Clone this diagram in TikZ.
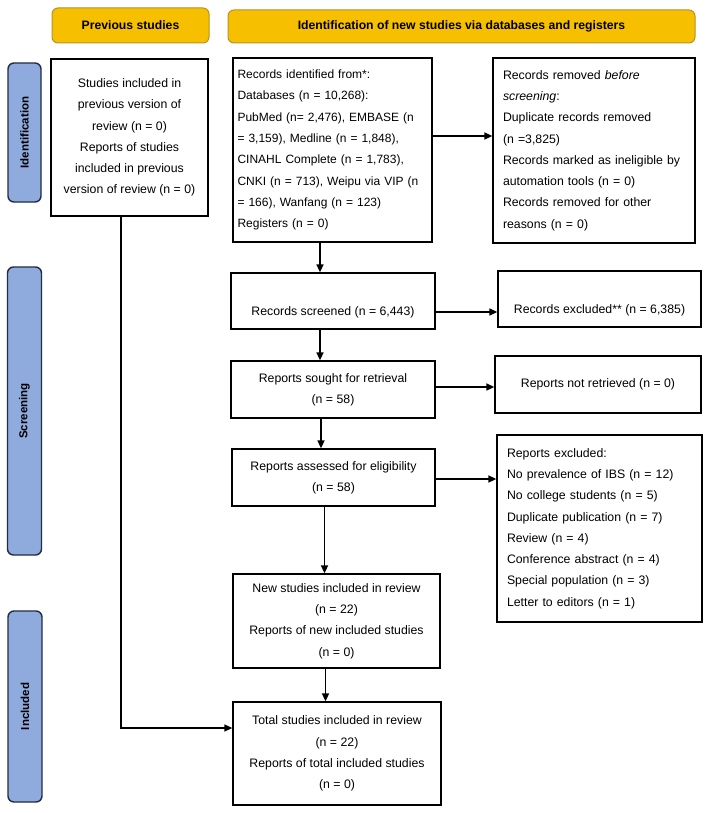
\documentclass[tikz,border=0pt]{standalone}
\usepackage{fontspec}
\setmainfont{Liberation Sans}
\usetikzlibrary{arrows.meta}
\definecolor{hdrfill}{RGB}{246,192,0}
\definecolor{hdrdraw}{RGB}{185,145,35}
\definecolor{sidefill}{RGB}{143,170,220}
\definecolor{sidedraw}{RGB}{35,45,65}
\begin{document}
\begin{tikzpicture}[x=1pt,y=-1pt,
  box/.style={draw=black, line width=1.3pt, fill=white, inner sep=0pt, align=center,
    font=\fontsize{12.3}{21.3}\selectfont},
  lbox/.style={box, align=left, inner xsep=#1},
  txt/.style={inner sep=0pt, font=\fontsize{12.3}{21.3}\selectfont},
  hdr/.style={draw=hdrdraw, fill=hdrfill, line width=1pt, rounded corners=6pt, inner sep=0pt,
    font=\bfseries\fontsize{12.2}{14}\selectfont},
  side/.style={draw=sidedraw, fill=sidefill, line width=1.4pt, rounded corners=6pt, inner sep=0pt,
    rotate=90, font=\bfseries\fontsize{11.5}{14}\selectfont},
  arr/.style={line width=1.6pt, -{Triangle[length=8pt,width=7pt]}},
  conn/.style={line width=1.3pt}]
\useasboundingbox[fill=white] (0,0) rectangle (708,813);

% headers
\node[hdr, minimum width=157pt, minimum height=35pt] (hprev) at (130.5,25.5) {Previous studies};
\node[hdr, minimum width=467pt, minimum height=33pt] (hident) at (461.5,26.5) {Identification of new studies via databases and registers};

% side labels
\node[side, minimum width=139pt, minimum height=33pt] (sident) at (24.5,132.5) {Identification};
\node[side, minimum width=288pt, minimum height=34pt] (sscreen) at (24.5,411) {Screening};
\node[side, minimum width=191pt, minimum height=34pt] (sincl) at (25,706.5) {Included};

% boxes
\node[box, minimum width=157pt, minimum height=157pt] (prev) at (129.5,137.5)
  {Studies included in\\previous version of\\review (n = 0)\\Reports of studies\\included in previous\\version of review (n = 0)};
\node[lbox=4.5pt, text width=190pt, minimum width=199pt, minimum height=184pt,
  font=\fontsize{12}{21.3}\selectfont] (ident) at (332.5,150)
  {Records identified from*:\\Databases (n = 10,268):\\PubMed (n= 2,476), EMBASE (n\\= 3,159), Medline (n = 1,848),\\CINAHL Complete (n = 1,783),\\CNKI (n = 713), Weipu via VIP (n\\= 166), Wanfang (n = 123)\\Registers (n = 0)};
\node[lbox=10pt, text width=182pt, minimum width=202pt, minimum height=185pt] (removed) at (594,150.5)
  {Records removed \textit{before}\\\textit{screening}:\\Duplicate records removed\\(n =3,825)\\Records marked as ineligible by\\automation tools (n = 0)\\Records removed for other\\reasons (n = 0)};
\node[box, minimum width=204pt, minimum height=56pt] (screened) at (333,301) {};
\node[txt] (screenedtxt) at ([yshift=-11pt]screened.center) {Records screened (n = 6,443)};
\node[box, minimum width=203pt, minimum height=56pt] (excluded) at (599.5,299) {};
\node[txt] (excludedtxt) at ([yshift=-11pt]excluded.center) {Records excluded** (n = 6,385)};
\node[box, minimum width=204pt, minimum height=57pt] (sought) at (333,389.5) {Reports sought for retrieval\\(n = 58)};
\node[box, minimum width=206pt, minimum height=57pt] (notret) at (598,384.5) {Reports not retrieved (n = 0)};
\node[box, minimum width=203pt, minimum height=57pt] (assessed) at (333.5,477.5) {Reports assessed for eligibility\\(n = 58)};
\node[lbox=10pt, text width=185pt, minimum width=205pt, minimum height=187pt] (repexcl) at (599.5,528.5)
  {Reports excluded:\\No prevalence of IBS (n = 12)\\No college students (n = 5)\\Duplicate publication (n = 7)\\Review (n = 4)\\Conference abstract (n = 4)\\Special population (n = 3)\\Letter to editors (n = 1)};
\node[box, minimum width=207pt, minimum height=94pt] (newst) at (336.5,621)
  {New studies included in review\\(n = 22)\\Reports of new included studies\\(n = 0)};
\node[box, minimum width=208pt, minimum height=103pt] (total) at (337,753.5)
  {Total studies included in review\\(n = 22)\\Reports of total included studies\\(n = 0)};

% helper coordinates
\coordinate (ax1) at (320,0);
\coordinate (ax2) at (320,0);
\coordinate (ax3) at (321,0);
\coordinate (ax4) at (324.5,0);
\coordinate (ax5) at (325.5,0);
\coordinate (lx) at (121,0);
\coordinate (ly) at (0,728);

% connectors
\draw[arr] ([yshift=14pt]ident.east) -- ([yshift=14pt]ident.east -| removed.west);
\draw[arr] (ident.south -| ax1) -- (screened.north -| ax1);
\draw[arr] ([yshift=-11pt]screened.east) -- ([yshift=-11pt]screened.east -| excluded.west);
\draw[arr] (screened.south -| ax2) -- (sought.north -| ax2);
\draw[arr] ([yshift=2.5pt]sought.east) -- ([yshift=2.5pt]sought.east -| notret.west);
\draw[arr] (sought.south -| ax3) -- (assessed.north -| ax3);
\draw[arr] ([yshift=-1.5pt]assessed.east) -- ([yshift=-1.5pt]assessed.east -| repexcl.west);
\draw[arr] (assessed.south -| ax4) -- (newst.north -| ax4);
\draw[arr] (newst.south -| ax5) -- (total.north -| ax5);
\draw[conn, -{Triangle[length=8pt,width=7pt]}] (prev.south -| lx) -- (lx |- ly) -- (total.west |- ly);
\end{tikzpicture}
\end{document}
